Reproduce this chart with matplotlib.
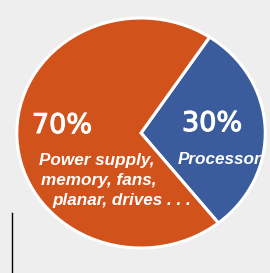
import matplotlib
matplotlib.use("Agg")
import matplotlib.pyplot as plt
import matplotlib.patheffects as pe

labels = ["Processor", "Power supply, memory, fans, planar, drives . . ."]
shares = [30, 70]
pct_labels = ["30%", "70%"]
colors = ["#3a5b9c", "#d2521b"]

SX = 1.08  # horizontal stretch of the (slightly elliptical) pie


def px(x):
    return x / SX


fig = plt.figure(figsize=(2.70, 2.73), dpi=100)
fig.patch.set_facecolor("#eeeeee")
ax = fig.add_axes([0, 0, 1, 1])
ax.set_facecolor("#eeeeee")

ax.pie(shares, colors=colors, startangle=-51.5, counterclock=True,
       center=(px(141), 140), radius=115, explode=[0.055, 0],
       wedgeprops=dict(edgecolor="white", linewidth=2.2))

ax.set_xlim(0, px(270))
ax.set_ylim(0, 273)
ax.set_aspect("auto")
ax.axis("off")

ax.plot([px(11.5), px(11.5)], [0, 60], color="black", lw=1)

medium = [pe.withStroke(linewidth=0.8, foreground="white")]
ax.text(px(62), 147, pct_labels[1], color="white", fontsize=19.5, ha="center", va="center",
        family="DejaVu Sans", path_effects=medium)
ax.text(px(212), 149, pct_labels[0], color="white", fontsize=19.5, ha="center", va="center",
        family="DejaVu Sans", path_effects=medium)

lines = ["Power supply,", "memory, fans,", "planar, drives . . ."]
xs = [97, 99, 122]
ys = [113, 92, 72]
for t, x, y in zip(lines, xs, ys):
    ax.text(px(x), y, t, color="white", fontsize=12.3, ha="center", va="center",
            family="Liberation Sans", fontweight="bold", style="italic")
ax.text(px(220), 113, labels[0], color="white", fontsize=12.3, ha="center", va="center",
        family="Liberation Sans", fontweight="bold", style="italic")

fig.savefig("out.png", dpi=100, facecolor=fig.get_facecolor())
